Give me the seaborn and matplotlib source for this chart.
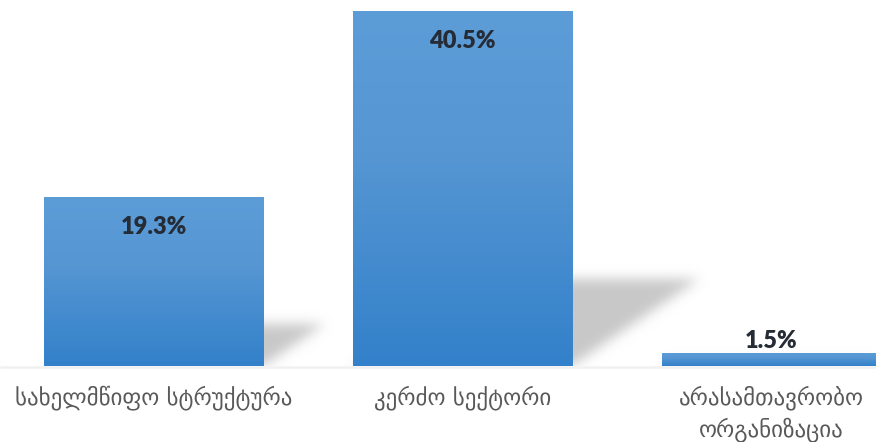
import numpy as np
import pandas as pd
import matplotlib
matplotlib.use("Agg")
import matplotlib.pyplot as plt
import matplotlib.transforms as mtransforms
from matplotlib.colors import LinearSegmentedColormap
from matplotlib.path import Path
import seaborn as sns

# Employment sector shares (%)
categories = ["სახელმწიფო სტრუქტურა", "კერძო სექტორი", "არასამთავრობო ორგანიზაცია"]
tick_labels = ["სახელმწიფო სტრუქტურა", "კერძო სექტორი", "არასამთავრობო\nორგანიზაცია"]
shares = [19.3, 40.5, 1.5]

sns.set_theme(style="white")
plt.rcParams["font.family"] = ["DejaVu Sans"]

fig = plt.figure(figsize=(8.76, 4.42), dpi=100)
fig.patch.set_facecolor("white")
ax = fig.add_axes([0, 0.172, 1, 0.828])

df = pd.DataFrame({"sector": categories, "share": shares})
sns.barplot(data=df, x="sector", y="share", width=0.71, color="#4a8fd1",
            ax=ax, zorder=3, saturation=1)

XLIM = (-0.497, 2.338)
YLIM = (0, 41.73)

# vertical gradient fill for each bar
bar_cmap = LinearSegmentedColormap.from_list(
    "bar", [(0.0, "#3381ca"), (0.6, "#5696d3"), (1.0, "#5c9cd7")])
grad = np.linspace(0, 1, 256).reshape(-1, 1)
for patch in ax.patches:
    x0, y0 = patch.get_x(), patch.get_y()
    w, h = patch.get_width(), patch.get_height()
    im = ax.imshow(grad, extent=[x0, x0 + w, y0, y0 + h], origin="lower",
                   cmap=bar_cmap, aspect="auto", zorder=3,
                   interpolation="bilinear")
    im.set_clip_path(patch)
    patch.set_facecolor("none")
    patch.set_edgecolor("none")

# soft perspective shadows cast up and to the right of each bar
W, H = 876, 366
xs = np.linspace(XLIM[0], XLIM[1], W)
ys = np.linspace(YLIM[0], YLIM[1], H)
gx, gy = np.meshgrid(xs, ys)
pts = np.column_stack([gx.ravel(), gy.ravel()])
mask = np.zeros(H * W)
for patch, val in zip(ax.patches, shares):
    x0, x1 = patch.get_x(), patch.get_x() + patch.get_width()
    skew = val * 0.0102
    top = val * 0.245
    poly = Path([(x0, 0), (x1, 0), (x1 + skew, top), (x0 + skew, top), (x0, 0)])
    mask = np.maximum(mask, poly.contains_points(pts).astype(float))
mask = mask.reshape(H, W)

sigma = 6.0
k = np.arange(-20, 21)
kern = np.exp(-k**2 / (2 * sigma**2))
kern /= kern.sum()
mask = np.apply_along_axis(lambda r: np.convolve(r, kern, mode="same"), 1, mask)
mask = np.apply_along_axis(lambda c: np.convolve(c, kern, mode="same"), 0, mask)

shadow = np.zeros((H, W, 4))
shadow[..., :3] = 0.775
shadow[..., 3] = np.clip(mask, 0, 1) * 0.95
ax.imshow(shadow, extent=[XLIM[0], XLIM[1], YLIM[0], YLIM[1]], origin="lower",
          aspect="auto", zorder=1, interpolation="bilinear")

# faint floor line under the bars
floor = ax.get_xaxis_transform() + mtransforms.ScaledTranslation(0, -1.2 / 100, fig.dpi_scale_trans)
ax.plot([0, 1], [0, 0], transform=mtransforms.blended_transform_factory(ax.transAxes, floor),
        color="#f1f1f1", lw=1.8, zorder=2, clip_on=False, solid_capstyle="butt")

# value labels
for patch, val in zip(ax.patches, shares):
    cx = patch.get_x() + patch.get_width() / 2
    offset = -30 * 0.72 if val > 5 else 12 * 0.72
    ax.annotate(f"{val}%", (cx, val), xytext=(0, offset), textcoords="offset points",
                ha="center", va="center", fontsize=17, fontweight="heavy",
                family=["Lato", "DejaVu Sans"], color="#252c36", zorder=5)

ax.set_xlim(*XLIM)
ax.set_ylim(*YLIM)
ax.set_xlabel("")
ax.set_ylabel("")
ax.set_yticks([])
ax.set_xticks(range(len(tick_labels)))
ax.set_xticklabels(tick_labels, fontsize=16.5, color="#595959", linespacing=1.35)
ax.tick_params(axis="x", length=0, pad=14)
for s in ax.spines.values():
    s.set_visible(False)

fig.savefig("out.png", dpi=100, facecolor="white")
